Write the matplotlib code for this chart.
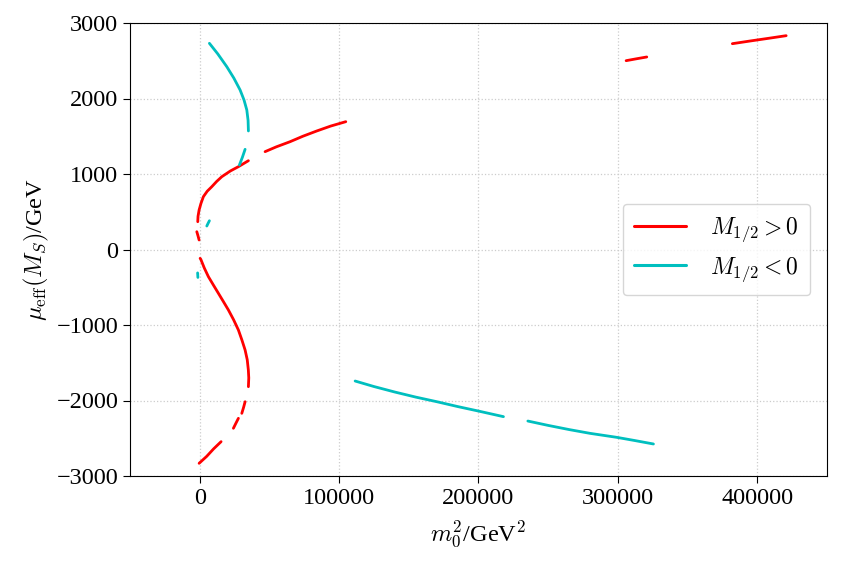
import numpy as np
import matplotlib
matplotlib.use('Agg')
import matplotlib.pyplot as plt

plt.rcParams['font.family'] = ['Liberation Serif', 'DejaVu Serif']
plt.rcParams['mathtext.fontset'] = 'cm'

# M_1/2 > 0 branch, pieces (m0^2, mu_eff)
pos_x = [
    [-430, 5000, 10000, 15350],
    [24180, 26000, 27760],
    [30200, 31500, 32570],
    [34940, 35200, 34900, 34100, 32570, 30300, 27760, 24300, 20590, 17000,
     13410, 9800, 6240, 3300, 790, 290],
    [-2080, -1200, -430],
    [-1400, -1200, -430, 900, 2650, 5400, 8680, 12200, 15850, 22000, 27760, 34940],
    [46900, 55000, 64850, 74000, 84000, 94000, 104800],
    [305900, 313000, 320700],
    [382100, 395000, 408000, 420700],
]
pos_y = [
    [-2832, -2740, -2640, -2545],
    [-2368, -2300, -2236],
    [-2170, -2090, -2016],
    [-1817, -1700, -1596, -1460, -1331, -1200, -1066, -930, -801, -690,
     -580, -470, -360, -245, -130, -117],
    [236, 180, 126],
    [368, 440, 523, 610, 700, 772, 832, 902, 964, 1040, 1097, 1176],
    [1296, 1360, 1428, 1500, 1570, 1635, 1693],
    [2501, 2525, 2550],
    [2726, 2762, 2797, 2832],
]

# M_1/2 < 0 branch
neg_x = [
    [6960, 13000, 19440, 24500, 28980, 31800, 33790, 34700, 34940],
    [28480, 30600, 32570],
    [5090, 6000, 6960],
    [-1500, -1400, -1300],
    [111500, 125000, 140000, 155000, 170100, 185000, 200000, 217900],
    [235400, 250000, 265000, 280000, 299200, 312000, 325500],
]
neg_y = [
    [2731, 2590, 2421, 2270, 2113, 1980, 1848, 1710, 1570],
    [1119, 1220, 1327],
    [311, 346, 381],
    [-310, -338, -370],
    [-1742, -1815, -1888, -1955, -2016, -2080, -2140, -2214],
    [-2272, -2330, -2385, -2435, -2488, -2530, -2576],
]

fig = plt.figure(figsize=(8.43, 5.69), dpi=100)
ax = fig.add_axes([130 / 843, 1 - 476 / 569, 697 / 843, 453 / 569])

for i in range(len(pos_x)):
    ax.plot(pos_x[i], pos_y[i], '-', color='#ff0000', lw=2.0,
            solid_capstyle='round', label=r'$M_{1/2}>0$' if i == 0 else None)
for i in range(len(neg_x)):
    ax.plot(neg_x[i], neg_y[i], '-', color='#00bfbf', lw=2.0,
            solid_capstyle='round', label=r'$M_{1/2}<0$' if i == 0 else None)

ax.set_xlim(-50000, 450000)
ax.set_ylim(-3000, 3000)
ax.set_xticks([0, 100000, 200000, 300000, 400000])
ax.set_yticks([-3000, -2000, -1000, 0, 1000, 2000, 3000])
ax.tick_params(labelsize=17.5, length=5)
ax.set_yticklabels(['\u22123000', '\u22122000', '\u22121000', '0', '1000', '2000', '3000'])
ax.grid(True, linestyle=':', color='#cccccc', lw=0.9)
ax.set_axisbelow(True)

ax.set_xlabel(r'$m_0^2$/GeV$^2$', fontsize=17.5, labelpad=7)
ax.set_ylabel(r'$\mu_{\rm eff}(M_S)$/GeV', fontsize=17.5, labelpad=4)

leg = ax.legend(loc='center right', fontsize=17, handlelength=2.2, borderpad=0.5,
                labelspacing=0.45, borderaxespad=0.7, handletextpad=1.0)
for line in leg.get_lines():
    line.set_linewidth(2.2)

fig.savefig('out.png', dpi=100)
